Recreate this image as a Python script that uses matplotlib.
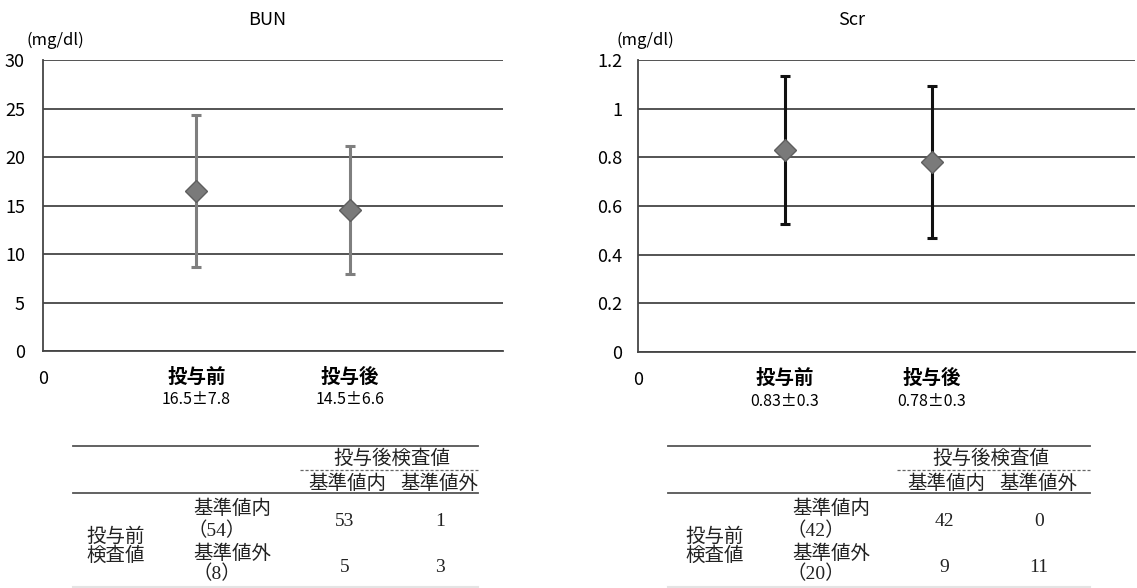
import numpy as np
import matplotlib
matplotlib.use('Agg')
from matplotlib import pyplot as plt

plt.rcParams['font.family'] = ['Noto Sans CJK JP', 'DejaVu Sans']

# ---- data ----
groups = ['投与前', '投与後']

bun_mean = [16.5, 14.5]
bun_sd = [7.8, 6.6]
bun_text = ['16.5±7.8', '14.5±6.6']
bun_yticks = [0, 5, 10, 15, 20, 25, 30]

scr_mean = [0.83, 0.78]
scr_sd = [0.305, 0.313]   # as drawn in the chart
scr_text = ['0.83±0.3', '0.78±0.3']
scr_yticks = [0, 0.2, 0.4, 0.6, 0.8, 1.0, 1.2]
scr_yticklabels = ['0', '0.2', '0.4', '0.6', '0.8', '1', '1.2']

tbl_head = '投与後検査値'
tbl_cols = ['基準値内', '基準値外']
tbl_rowhead = ['投与前', '検査値']
bun_rows_n = [54, 8]
bun_counts = [[53, 1], [5, 3]]
scr_rows_n = [42, 20]
scr_counts = [[42, 0], [9, 11]]

W, H = 1137, 588
fig = plt.figure(figsize=(W / 100, H / 100), dpi=100)

def px(x, y):
    return x / W, 1 - y / H

GRID = '#454545'
TBL_FONT = ['Liberation Serif', 'Noto Sans CJK JP']

def panel(rect, mean, sd, yticks, ylabels, ylim, xmax, ecolor, desc, title, title_x, unit_x, pad):
    l, t, w, h = rect
    ax = fig.add_axes([l / W, 1 - (t + h) / H, w / W, h / H])
    xs = np.arange(1, len(mean) + 1)
    ax.errorbar(xs, mean, yerr=sd, fmt='none', ecolor=ecolor, elinewidth=2.2,
                capsize=3.5, capthick=2.2, zorder=3)
    ax.plot(xs, mean, linestyle='none', marker='D', markersize=11,
            markerfacecolor='#7a7a7a', markeredgecolor='#5e5e5e',
            markeredgewidth=1.0, zorder=4)
    ax.set_xlim(0, xmax)
    ax.set_ylim(*ylim)
    ax.set_yticks(yticks)
    ax.set_yticklabels(ylabels)
    ax.set_xticks([0])
    ax.set_xticklabels(['0'])
    ax.tick_params(axis='y', length=0, pad=pad, labelsize=13)
    ax.tick_params(axis='x', length=0, pad=14, labelsize=13)
    ax.grid(axis='y', color=GRID, linewidth=1.3)
    ax.set_axisbelow(True)
    for s in ['top', 'right']:
        ax.spines[s].set_visible(False)
    for s in ['left', 'bottom']:
        ax.spines[s].set_color(GRID)
        ax.spines[s].set_linewidth(1.3)
    tr = ax.get_xaxis_transform()
    for x, g, d in zip(xs, groups, desc):
        ax.annotate(g, xy=(x, 0), xycoords=tr, xytext=(0, -26),
                    textcoords='offset pixels', ha='center', va='center',
                    fontsize=14, fontweight='bold')
        ax.annotate(d, xy=(x, 0), xycoords=tr, xytext=(0, -49),
                    textcoords='offset pixels', ha='center', va='center',
                    fontsize=11.5)
    fig.text(*px(title_x, 20), title, ha='center', va='center', fontsize=13)
    fig.text(*px(unit_x, 40), '(mg/dl)', ha='left', va='center', fontsize=12)
    return ax

panel((43, 60, 460, 291), bun_mean, bun_sd, bun_yticks, [str(v) for v in bun_yticks],
      (0, 30), 3.0, '#7f7f7f', bun_text, 'BUN', 267, 27, 13)
panel((638, 60, 497, 292), scr_mean, scr_sd, scr_yticks, scr_yticklabels,
      (0, 1.2), 3.38, '#111111', scr_text, 'Scr', 852, 617, 11.5)


def table(dx, x0, x1, xd, rows_n, counts):
    c1, c2 = 345 + dx, 440 + dx
    fig.add_artist(plt.Line2D([x0 / W, x1 / W], [1 - 446 / H] * 2, color='#555555', lw=1.3))
    fig.add_artist(plt.Line2D([xd / W, x1 / W], [1 - 470 / H] * 2, color='#666666', lw=0.9,
                              linestyle=(0, (2.5, 1.5))))
    fig.add_artist(plt.Line2D([x0 / W, x1 / W], [1 - 493 / H] * 2, color='#555555', lw=1.3))
    fig.add_artist(plt.Line2D([x0 / W, x1 / W], [1 - 587 / H] * 2, color='#e4e4e4', lw=1.5))
    kw = dict(ha='center', va='center', fontsize=14, family=TBL_FONT, color='#222222')
    fig.text(*px(392 + dx, 459), tbl_head, **kw)
    fig.text(*px(347 + dx, 484), tbl_cols[0], **kw)
    fig.text(*px(439 + dx, 484), tbl_cols[1], **kw)
    fig.text(*px(116 + dx, 537), tbl_rowhead[0], **kw)
    fig.text(*px(116 + dx, 556), tbl_rowhead[1], **kw)
    ys = [(509, 531, 521), (554, 574, 567)]
    for (ya, yb, yn), lab, n, row in zip(ys, tbl_cols, rows_n, counts):
        fig.text(*px(232 + dx, ya), lab, **kw)
        fig.text(*px(217 + dx, yb), '（%d）' % n, **kw)
        fig.text(*px(c1, yn), str(row[0]), **kw)
        fig.text(*px(c2, yn), str(row[1]), **kw)

table(0, 73, 478, 300, bun_rows_n, bun_counts)
table(599, 668, 1090, 897, scr_rows_n, scr_counts)

fig.savefig('out.png', dpi=100)
